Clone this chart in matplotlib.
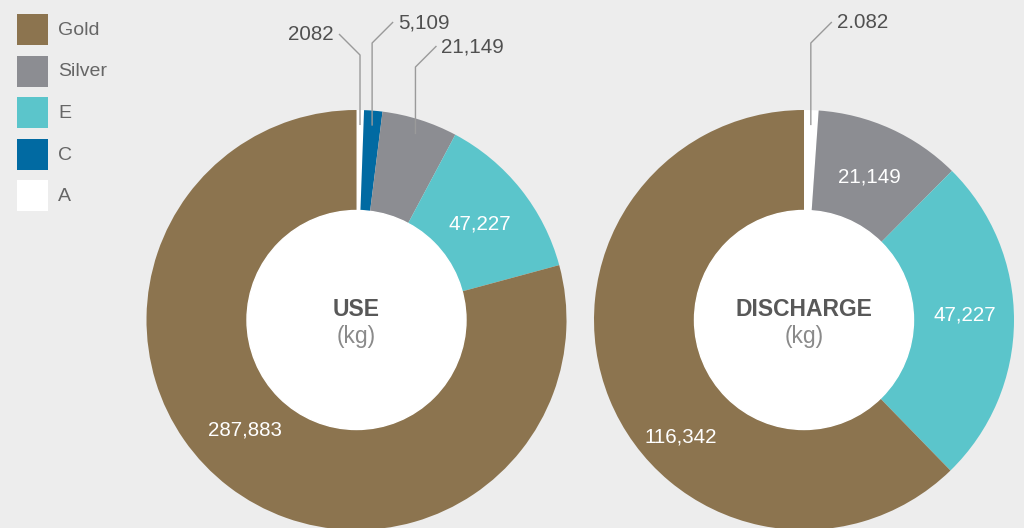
import numpy as np
import matplotlib.pyplot as plt
from matplotlib.patches import Circle, Rectangle

plt.rcParams['font.family'] = ['Liberation Sans', 'DejaVu Sans']

# data
categories = ['Gold', 'Silver', 'E', 'C', 'A']
colors = {'Gold': '#8c744f', 'Silver': '#8c8d92', 'E': '#5bc5cb',
          'C': '#016aa2', 'A': '#ffffff'}

# clockwise from 12 o'clock
use_names = ['A', 'C', 'Silver', 'E', 'Gold']
use_values = [2082, 5109, 21149, 47227, 287883]
use_labels = ['2082', '5,109', '21,149', '47,227', '287,883']

discharge_names = ['A', 'Silver', 'E', 'Gold']
discharge_values = [2082, 21149, 47227, 116342]
discharge_labels = ['2.082', '21,149', '47,227', '116,342']

W, H = 1024, 528
BG = '#ededed'
fig = plt.figure(figsize=(W / 100, H / 100), dpi=100, facecolor=BG)
ax = fig.add_axes([0, 0, 1, 1])
ax.set_facecolor(BG)

R_OUT, R_IN = 210, 109
FS = 14.8


def Y(ypix):
    return H - ypix


def polar(cx, cy, r, ang):
    # angle in degrees, clockwise from top; cy in pixel rows
    a = np.radians(ang)
    return cx + r * np.sin(a), Y(cy - r * np.cos(a))


def donut(cx, cy, names, values, title):
    ax.pie(values, colors=[colors[n] for n in names], startangle=90,
           counterclock=False, radius=R_OUT, center=(cx, Y(cy)),
           wedgeprops=dict(width=R_OUT - R_IN, linewidth=0))
    ax.add_patch(Circle((cx, Y(cy)), R_IN + 0.5, color='white', zorder=3))
    ax.text(cx, Y(cy - 11), title, ha='center', va='center', fontsize=16.5,
            fontweight='bold', color='#585858', zorder=4)
    ax.text(cx, Y(cy + 17), '(kg)', ha='center', va='center', fontsize=16.5,
            color='#8a8a8a', zorder=4)
    # mid angles of wedges
    v = np.array(values, dtype=float)
    edges = np.concatenate([[0], np.cumsum(v) / v.sum() * 360])
    return (edges[:-1] + edges[1:]) / 2


def leader(x0, y0, ykink, dx, dy, text, ha):
    xs = [x0, x0, x0 + dx]
    ys = [Y(y0), Y(ykink), Y(ykink - dy)]
    ax.plot(xs, ys, color='#9a9a9a', lw=1.0, zorder=5, solid_capstyle='butt')
    tx = x0 + dx + (5 if dx > 0 else -5)
    ax.text(tx, Y(ykink - dy + 1), text, ha=ha, va='center', fontsize=FS,
            color='#505050', zorder=5)


def inner_label(cx, cy, r, ang, text):
    x, y = polar(cx, cy, r, ang)
    ax.text(x, y - 2, text, ha='center', va='center', fontsize=FS,
            color='white', zorder=4)


LCX, RCX, CY = 356.5, 804, 320

mid = donut(LCX, CY, use_names, use_values, 'USE')
# small slices labelled outside
for i, (ykink, dx, ha) in zip([0, 1, 2], [(55, -21, 'right'), (43, 21, 'left'),
                                          (67, 21, 'left')]):
    x0, y0 = polar(LCX, CY, 195, mid[i])
    leader(x0, H - y0, ykink, dx, 21, use_labels[i], ha)
inner_label(LCX, CY, 158, mid[3], use_labels[3])
inner_label(LCX, CY, 155, 226, use_labels[4])

mid = donut(RCX, CY, discharge_names, discharge_values, 'DISCHARGE')
x0, y0 = polar(RCX, CY, 195, mid[0])
leader(x0, H - y0, 43, 21, 21, discharge_labels[0], 'left')
inner_label(RCX, CY, 159, mid[1], discharge_labels[1])
inner_label(RCX, CY, 161, 87.5, discharge_labels[2])
inner_label(RCX, CY, 168, 227, discharge_labels[3])

# legend
for k, name in enumerate(categories):
    top = 14 + k * 41.5
    ax.add_patch(Rectangle((17, Y(top + 31)), 31, 31, color=colors[name],
                           lw=0, zorder=4))
    ax.text(58, Y(top + 16.5), name, ha='left', va='center', fontsize=14,
            color='#666666', zorder=4)

ax.set_xlim(0, W)
ax.set_ylim(0, H)
ax.set_aspect('equal')
ax.axis('off')
fig.savefig('out.png', dpi=100, facecolor=BG)
